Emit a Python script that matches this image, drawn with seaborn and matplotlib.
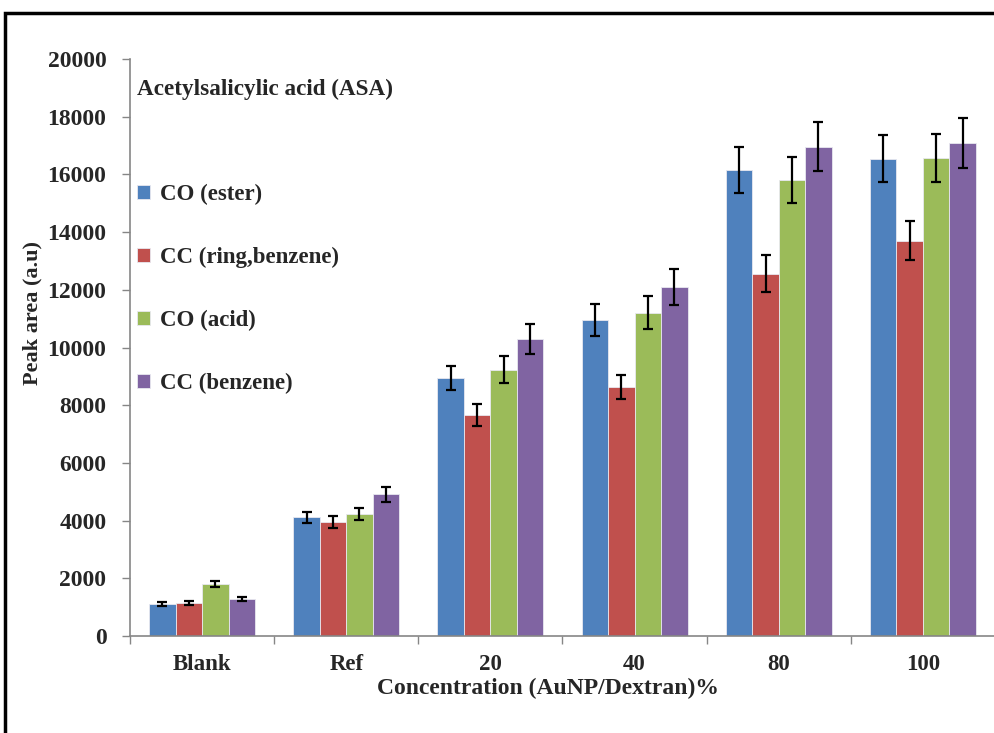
import numpy as np
import pandas as pd
import seaborn as sns
import matplotlib.pyplot as plt
from matplotlib.patches import Rectangle
from matplotlib.ticker import MultipleLocator, FixedLocator

categories = ["Blank", "Ref", "20", "40", "80", "100"]
series = ["CO (ester)", "CC (ring,benzene)", "CO (acid)", "CC (benzene)"]

co_ester = [1100, 4110, 8930, 10950, 16150, 16550]
cc_ring = [1160, 3960, 7660, 8630, 12560, 13700]
co_acid = [1800, 4240, 9230, 11200, 15820, 16570]
cc_benzene = [1270, 4910, 10290, 12100, 16960, 17080]

co_ester_err = [70, 200, 420, 550, 800, 820]
cc_ring_err = [70, 200, 390, 430, 640, 680]
co_acid_err = [90, 210, 460, 570, 800, 820]
cc_benzene_err = [65, 260, 520, 610, 850, 860]

colors = ["#4F81BD", "#C0504D", "#9BBB59", "#8064A2"]

values = [co_ester, cc_ring, co_acid, cc_benzene]
errors = [co_ester_err, cc_ring_err, co_acid_err, cc_benzene_err]

df = pd.DataFrame({
    "category": np.tile(categories, len(series)),
    "series": np.repeat(series, len(categories)),
    "value": np.concatenate(values),
    "err": np.concatenate(errors),
})

sns.set_style("white")
plt.rcParams["font.family"] = ["Liberation Serif", "DejaVu Serif"]
plt.rcParams["font.weight"] = "bold"

fig = plt.figure(figsize=(9.95, 7.33), dpi=100)
ax = fig.add_axes([130 / 995, 1 - 636 / 733, 865 / 995, (636 - 59) / 733])

sns.barplot(data=df, x="category", y="value", hue="series", order=categories,
            hue_order=series, palette=colors, errorbar=None, width=0.735,
            saturation=1, edgecolor="#e8e8f0", linewidth=0.6, ax=ax)

# error bars on each bar
for cont, errs in zip(ax.containers, errors):
    xs = [p.get_x() + p.get_width() / 2 for p in cont.patches]
    hs = [p.get_height() for p in cont.patches]
    ax.errorbar(xs, hs, yerr=errs, fmt="none", ecolor="black",
                elinewidth=1.6, capsize=3.5, capthick=1.6, zorder=5)

ax.set_ylim(0, 20000)
ax.set_xlim(-0.5, 5.5)
ax.yaxis.set_major_locator(MultipleLocator(2000))
ax.tick_params(axis="y", labelsize=17, length=6, color="#868686", width=1,
               direction="out", left=True, pad=11)
ax.tick_params(axis="x", which="major", labelsize=16.5, length=0, pad=13)
ax.xaxis.set_minor_locator(FixedLocator(np.arange(-0.5, 6, 1)))
ax.tick_params(axis="x", which="minor", length=6, color="#868686", width=1,
               direction="out", bottom=True)
for lab in ax.get_xticklabels() + ax.get_yticklabels():
    lab.set_fontweight("bold")

for s in ["top", "right"]:
    ax.spines[s].set_visible(False)
for s in ["left", "bottom"]:
    ax.spines[s].set_color("#868686")
    ax.spines[s].set_linewidth(1.2)

ax.set_xlabel("Concentration (AuNP/Dextran)%", fontsize=17, fontweight="bold")
ax.set_ylabel("Peak area (a.u)", fontsize=16, fontweight="bold")
ax.xaxis.set_label_coords((548 - 130) / 865, -(678 - 636) / 577)
ax.yaxis.set_label_coords((42 - 130) / 865, (636 - 313) / 577)

ax.text(137 / 995, 1 - 89 / 733, "Acetylsalicylic acid (ASA)",
        transform=fig.transFigure, fontsize=16.7, fontweight="bold",
        va="center", ha="left")

handles, labels = ax.get_legend_handles_labels()
ax.legend(handles, labels, loc="upper left",
          bbox_to_anchor=(137 / 995, 1 - 184 / 733),
          bbox_transform=fig.transFigure, frameon=False,
          prop={"weight": "bold", "size": 16.5}, handlelength=0.55,
          handleheight=0.55, handletextpad=0.45, labelspacing=1.83,
          borderpad=0, borderaxespad=0)

# outer black frame (right and bottom edges are cut off in the image)
fig.patches.append(Rectangle((5 / 995, -0.05), 1.2, 1 - 13 / 733 + 0.05,
                             transform=fig.transFigure, fill=False,
                             edgecolor="black", linewidth=2.5, zorder=0))

fig.savefig("out.png", dpi=100)
